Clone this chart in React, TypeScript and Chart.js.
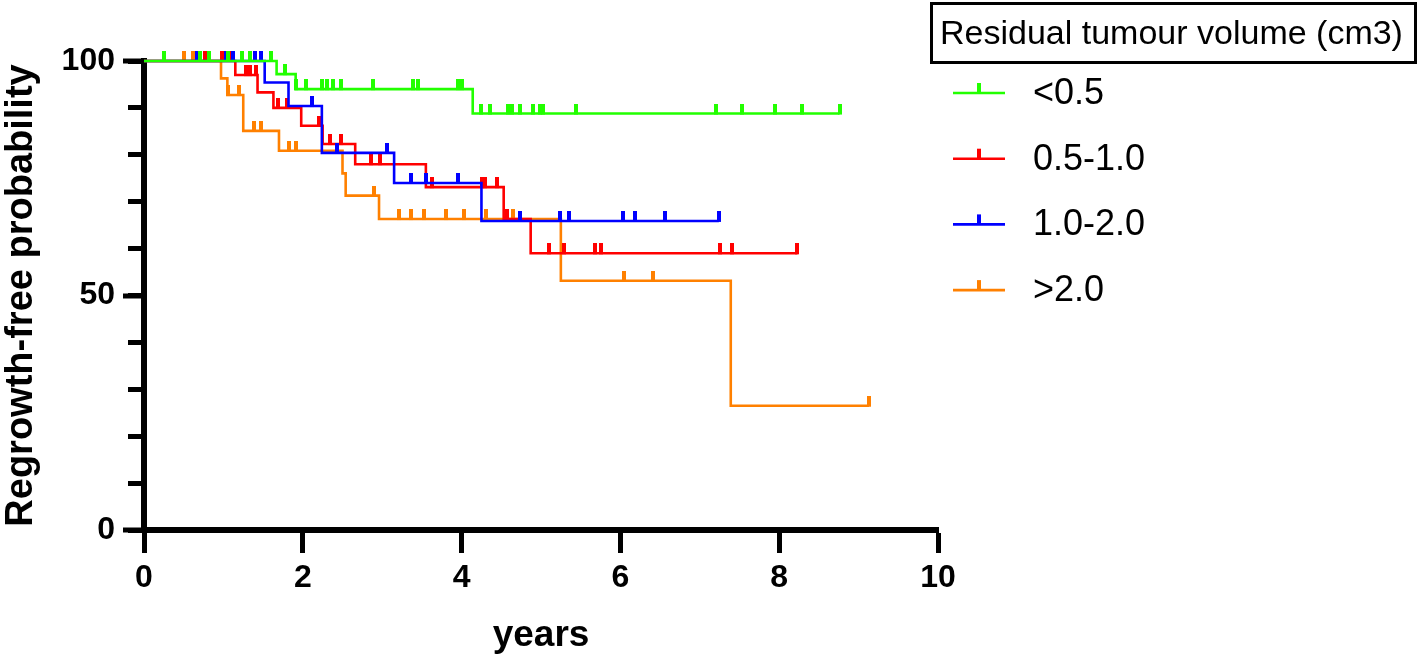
import React, { useEffect, useRef } from 'react';
import { Chart, registerables } from 'chart.js';

Chart.register(...registerables);

const FONT = "'Liberation Sans', Arial, Helvetica, sans-serif";

// Legend / series
const seriesLabels = ['<0.5', '0.5-1.0', '1.0-2.0', '>2.0'];
const seriesColors = ['#22ff00', '#ff0000', '#0000ff', '#ff8000'];
const legendTitle = 'Residual tumour volume (cm3)';

// Kaplan-Meier step curves (time in years, survival after the step, %)
const greenStepTimes = [0, 1.67, 1.91, 4.14, 8.76];
const greenStepValues = [100, 97.2, 94.0, 88.8, 88.8];
const greenCensored = [0.25, 0.71, 0.82, 1.06, 1.23, 1.33, 1.6, 1.78, 1.92, 2.04, 2.24, 2.3, 2.38, 2.48, 2.88, 3.39, 3.45, 3.96, 4.01, 4.24, 4.36, 4.59, 4.63, 4.74, 4.9, 4.99, 5.03, 5.44, 7.21, 7.53, 7.95, 8.29, 8.76];

const redStepTimes = [0, 1.15, 1.43, 1.63, 1.98, 2.25, 2.66, 3.55, 4.53, 4.87, 8.23];
const redStepValues = [100, 97.0, 93.3, 90.0, 86.2, 82.3, 78.0, 73.1, 66.3, 59.0, 59.0];
const redCensored = [0.77, 0.98, 1.1, 1.28, 1.34, 1.41, 1.69, 1.8, 2.2, 2.34, 2.48, 2.86, 2.97, 3.63, 4.26, 4.29, 4.45, 4.57, 5.1, 5.29, 5.68, 5.75, 7.25, 7.4, 8.23];

const blueStepTimes = [0, 1.52, 1.82, 2.24, 3.15, 4.25, 7.24];
const blueStepValues = [100, 95.4, 90.4, 80.4, 74.0, 65.9, 65.9];
const blueCensored = [0.67, 1.03, 1.12, 1.4, 1.47, 2.12, 2.43, 3.06, 3.36, 3.55, 3.95, 4.73, 5.24, 5.35, 6.03, 6.18, 6.56, 7.24];

const orangeStepTimes = [0, 0.97, 1.05, 1.25, 1.7, 2.5, 2.54, 2.96, 5.25, 7.39, 9.13];
const orangeStepValues = [100, 96.3, 92.75, 85.1, 80.85, 76.05, 71.3, 66.3, 53.15, 26.5, 26.5];
const orangeCensored = [0.5, 0.62, 1.06, 1.2, 1.38, 1.47, 1.82, 1.92, 2.9, 3.21, 3.36, 3.53, 3.8, 4.03, 4.31, 4.65, 6.04, 6.41, 9.13];

// Axes
const xMin = 0;
const xMax = 10;
const xStep = 2;
const yMin = 0;
const yMax = 100;
const yMinorStep = 10;
const yMajorTicks = [0, 50, 100];
const xTitle = 'years';
const yTitle = 'Regrowth-free probability';

function stepAt(times: number[], values: number[], t: number): number {
  let v = values[0];
  for (let i = 0; i < times.length; i++) {
    if (times[i] <= t) v = values[i];
  }
  return v;
}

function makeTickImage(color: string): HTMLCanvasElement {
  const c = document.createElement('canvas');
  c.width = 4;
  c.height = 20;
  const g = c.getContext('2d')!;
  g.fillStyle = color;
  g.fillRect(0, 0, 4, 11);
  return c;
}

export default function App() {
  const ref = useRef<HTMLCanvasElement>(null);

  useEffect(() => {
    document.body.style.margin = '0';
    const canvas = ref.current!;

    const series = [
      { times: greenStepTimes, values: greenStepValues, censored: greenCensored, color: seriesColors[0], order: 0 },
      { times: redStepTimes, values: redStepValues, censored: redCensored, color: seriesColors[1], order: 2 },
      { times: blueStepTimes, values: blueStepValues, censored: blueCensored, color: seriesColors[2], order: 1 },
      { times: orangeStepTimes, values: orangeStepValues, censored: orangeCensored, color: seriesColors[3], order: 3 },
    ];

    const datasets: any[] = [];
    series.forEach((s, i) => {
      datasets.push({
        label: seriesLabels[i],
        data: s.times.map((t, k) => ({ x: t, y: s.values[k] })),
        borderColor: s.color,
        backgroundColor: s.color,
        borderWidth: 2.6,
        stepped: 'before',
        pointRadius: 0,
        fill: false,
        clip: false,
        order: s.order,
      });
      datasets.push({
        label: seriesLabels[i] + ' censored',
        data: s.censored.map((t) => ({ x: t, y: stepAt(s.times, s.values, t) })),
        showLine: false,
        borderColor: s.color,
        backgroundColor: s.color,
        pointStyle: makeTickImage(s.color),
        pointRadius: 3,
        clip: false,
        order: s.order,
      });
    });

    const majorTicksPlugin = {
      id: 'majorTicks',
      beforeDatasetsDraw(chart: any) {
        const { ctx, chartArea } = chart;
        const y = chart.scales.y;
        ctx.save();
        ctx.strokeStyle = '#000';
        ctx.lineWidth = 5;
        yMajorTicks.forEach((v) => {
          const py = Math.round(y.getPixelForValue(v));
          ctx.beginPath();
          ctx.moveTo(chartArea.left - 21, py);
          ctx.lineTo(chartArea.left, py);
          ctx.stroke();
        });
        ctx.restore();
      },
    };

    const legendPlugin = {
      id: 'kmLegend',
      afterDraw(chart: any) {
        const ctx = chart.ctx;
        ctx.save();
        ctx.lineWidth = 3;
        ctx.strokeStyle = '#000';
        ctx.strokeRect(931.5, 3.5, 484, 59);
        ctx.fillStyle = '#000';
        ctx.font = `34px ${FONT}`;
        ctx.textBaseline = 'alphabetic';
        ctx.textAlign = 'left';
        ctx.fillText(legendTitle, 940, 44);
        seriesLabels.forEach((lab, i) => {
          const y = 93 + i * 65.7;
          ctx.strokeStyle = seriesColors[i];
          ctx.lineWidth = 2.6;
          ctx.beginPath();
          ctx.moveTo(953, y);
          ctx.lineTo(1005, y);
          ctx.stroke();
          ctx.fillStyle = seriesColors[i];
          ctx.fillRect(977, y - 10, 4, 10);
          ctx.fillStyle = '#000';
          ctx.font = `36px ${FONT}`;
          ctx.textBaseline = 'middle';
          ctx.fillText(lab, 1033, y + 1);
        });
        ctx.restore();
      },
    };

    const chart = new Chart(canvas, {
      type: 'line',
      data: { datasets },
      options: {
        responsive: false,
        devicePixelRatio: 1,
        animation: false,
        events: [],
        layout: { padding: { top: 61, right: 482, bottom: 0, left: 0 } },
        plugins: { legend: { display: false }, tooltip: { enabled: false } },
        scales: {
          x: {
            type: 'linear',
            min: xMin,
            max: xMax,
            afterFit: (scale: any) => { scale.height = 128; },
            ticks: {
              stepSize: xStep,
              color: '#000',
              padding: 6,
              font: { family: FONT, size: 32, weight: 'bold' },
            },
            grid: { drawOnChartArea: false, tickLength: 23, tickWidth: 5, tickColor: '#000' },
            border: { display: true, width: 6, color: '#000' },
            title: {
              display: true,
              text: xTitle,
              color: '#000',
              font: { family: FONT, size: 37, weight: 'bold' },
              padding: { top: 0, bottom: 0 },
            },
          },
          y: {
            type: 'linear',
            min: yMin,
            max: yMax,
            afterFit: (scale: any) => { scale.width = 144; },
            ticks: {
              stepSize: yMinorStep,
              color: '#000',
              padding: 13,
              font: { family: FONT, size: 32, weight: 'bold' },
              callback: (v: any) => (yMajorTicks.includes(Number(v)) ? String(v) : ''),
            },
            grid: { drawOnChartArea: false, tickLength: 16, tickWidth: 5, tickColor: '#000' },
            border: { display: true, width: 6, color: '#000' },
            title: {
              display: true,
              text: yTitle,
              color: '#000',
              font: { family: FONT, size: 38, weight: 'bold' },
              padding: { top: -1, bottom: 0 },
            },
          },
        },
      } as any,
      plugins: [majorTicksPlugin, legendPlugin],
    });

    return () => chart.destroy();
  }, []);

  return (
    <div style={{ width: 1420, height: 658 }}>
      <canvas ref={ref} width={1420} height={658} style={{ display: 'block' }} />
    </div>
  );
}
